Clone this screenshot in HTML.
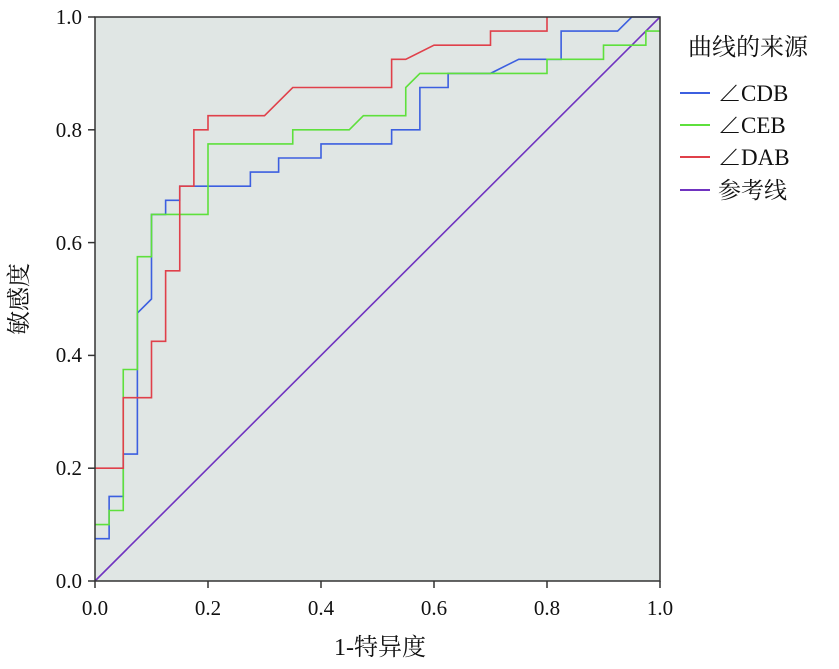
<!DOCTYPE html>
<html><head><meta charset="utf-8"><style>
body{margin:0;background:#fff;}
svg text{font-family:"Liberation Serif","Noto Serif CJK SC",serif;fill:#111;}
</style></head><body>
<svg width="839" height="664" viewBox="0 0 839 664" xmlns="http://www.w3.org/2000/svg">
<rect x="95" y="17" width="565" height="564" fill="#e0e6e4"/>
<g transform="translate(95,581) scale(565,-564)" fill="none" stroke-width="1.6">
<polyline vector-effect="non-scaling-stroke" stroke="#7033c0" points="0,0 1,1"/>
<polyline vector-effect="non-scaling-stroke" stroke="#3c5fe0" points="0,0.075 0.025,0.075 0.025,0.15 0.05,0.15 0.05,0.225 0.075,0.225 0.075,0.475 0.1,0.5 0.1,0.65 0.125,0.65 0.125,0.675 0.15,0.675 0.15,0.7 0.275,0.7 0.275,0.725 0.325,0.725 0.325,0.75 0.4,0.75 0.4,0.775 0.525,0.775 0.525,0.8 0.575,0.8 0.575,0.875 0.625,0.875 0.625,0.9 0.7,0.9 0.75,0.925 0.825,0.925 0.825,0.975 0.925,0.975 0.95,1 1,1"/>
<polyline vector-effect="non-scaling-stroke" stroke="#5ee03c" points="0,0.1 0.025,0.1 0.025,0.125 0.05,0.125 0.05,0.375 0.075,0.375 0.075,0.575 0.1,0.575 0.1,0.65 0.2,0.65 0.2,0.775 0.35,0.775 0.35,0.8 0.45,0.8 0.475,0.825 0.55,0.825 0.55,0.875 0.575,0.9 0.8,0.9 0.8,0.925 0.9,0.925 0.9,0.95 0.975,0.95 0.975,0.975 1,0.975"/>
<polyline vector-effect="non-scaling-stroke" stroke="#e0404a" points="0,0.2 0.05,0.2 0.05,0.325 0.1,0.325 0.1,0.425 0.125,0.425 0.125,0.55 0.15,0.55 0.15,0.7 0.175,0.7 0.175,0.8 0.2,0.8 0.2,0.825 0.3,0.825 0.35,0.875 0.525,0.875 0.525,0.925 0.55,0.925 0.6,0.95 0.7,0.95 0.7,0.975 0.8,0.975 0.8,1"/>
</g>
<rect x="95" y="17" width="565" height="564" fill="none" stroke="#333" stroke-width="1.5"/>
<g stroke="#333" stroke-width="1.5">
<line x1="88" y1="17" x2="95" y2="17"/><line x1="88" y1="129.8" x2="95" y2="129.8"/><line x1="88" y1="242.6" x2="95" y2="242.6"/><line x1="88" y1="355.4" x2="95" y2="355.4"/><line x1="88" y1="468.2" x2="95" y2="468.2"/><line x1="88" y1="581" x2="95" y2="581"/>
<line x1="95" y1="581" x2="95" y2="588"/><line x1="208" y1="581" x2="208" y2="588"/><line x1="321" y1="581" x2="321" y2="588"/><line x1="434" y1="581" x2="434" y2="588"/><line x1="547" y1="581" x2="547" y2="588"/><line x1="660" y1="581" x2="660" y2="588"/>
</g>
<g font-size="21" text-anchor="end">
<text x="82" y="24">1.0</text><text x="82" y="137">0.8</text><text x="82" y="250">0.6</text><text x="82" y="362">0.4</text><text x="82" y="475">0.2</text><text x="82" y="588">0.0</text>
</g>
<g font-size="21" text-anchor="middle">
<text x="95" y="615">0.0</text><text x="208" y="615">0.2</text><text x="321" y="615">0.4</text><text x="434" y="615">0.6</text><text x="547" y="615">0.8</text><text x="660" y="615">1.0</text>
<text x="380" y="655" font-size="24">1-特异度</text>
<text transform="translate(27,299) rotate(-90)" font-size="24">敏感度</text>
</g>
<text x="688" y="55" font-size="24">曲线的来源</text>
<g font-size="23">
<line x1="680" y1="93" x2="710" y2="93" stroke="#3c5fe0" stroke-width="2"/><text x="718" y="101">∠CDB</text>
<line x1="680" y1="125" x2="710" y2="125" stroke="#5ee03c" stroke-width="2"/><text x="718" y="133">∠CEB</text>
<line x1="680" y1="157" x2="710" y2="157" stroke="#e0404a" stroke-width="2"/><text x="718" y="165">∠DAB</text>
<line x1="680" y1="190" x2="710" y2="190" stroke="#7033c0" stroke-width="2"/><text x="718" y="198">参考线</text>
</g>
</svg>
</body></html>
